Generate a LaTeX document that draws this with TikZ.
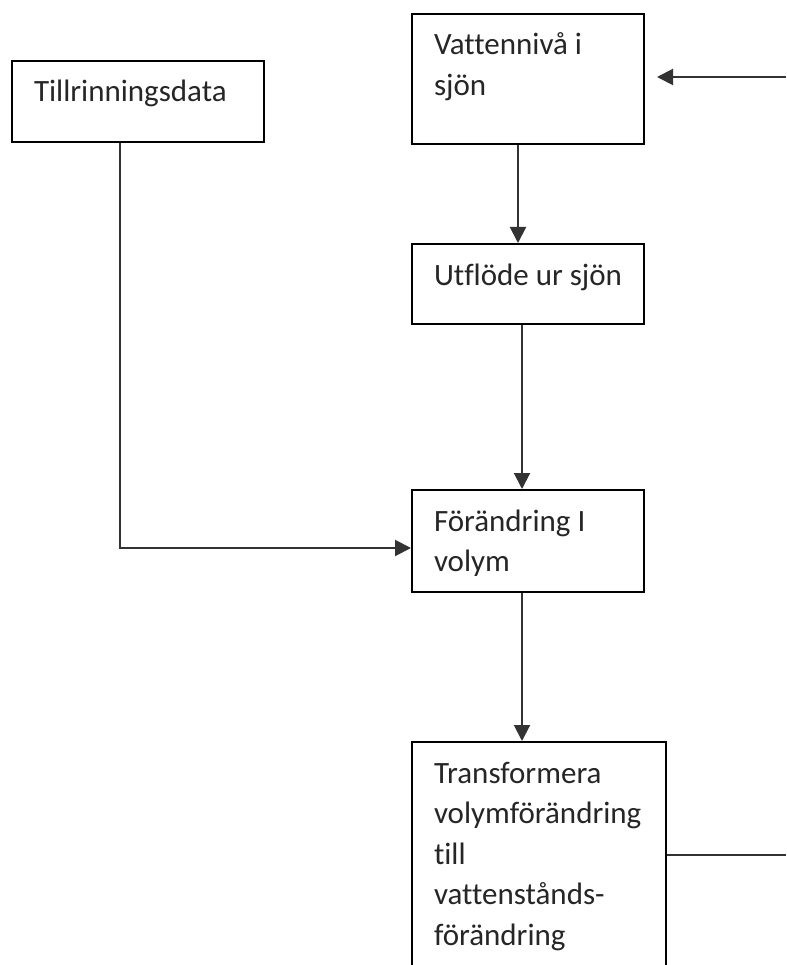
\documentclass[tikz,border=0pt]{standalone}
\usepackage{fontspec}
\setmainfont{Carlito}[Ligatures={NoCommon,NoRequired,NoContextual}]
\usetikzlibrary{arrows.meta}
\newcommand{\bxt}[3]{\parbox[t][#1][t]{#2}{\fontsize{31}{40.5}\selectfont\raggedright\hyphenpenalty=10000\rule{0pt}{28pt}#3}}
\tikzset{
  box/.style={draw=black, line width=2pt, anchor=north west, inner xsep=22pt, inner ysep=13pt, text=black!85, fill=white},
  conn/.style={draw=black!80, line width=2pt},
  arr/.style={conn, -{Triangle[length=16pt,width=16pt]}},
}
\begin{document}
\begin{tikzpicture}[x=1pt,y=-1pt]
\clip (0,0) rectangle (786,965);
\fill[white] (0,0) rectangle (786,965);
\node[box] (T) at (11,60) {\bxt{55pt}{208pt}{Tillrinningsdata}};
\node[box] (A) at (411,13) {\bxt{104pt}{188pt}{Vattennivå i\\sjön}};
\node[box] (U) at (411,243) {\bxt{54pt}{188pt}{Utflöde ur sjön}};
\node[box] (F) at (411,489) {\bxt{76pt}{188pt}{Förändring I\\volym}};
\node[box] (Tr) at (411,741) {\bxt{234pt}{210pt}{Transformera\\volymförändring\\till\\vattenstånds-\\förändring}};
\coordinate (r1) at (786,855);
\coordinate (r2) at (786,77);
\coordinate (Ae) at ([xshift=12pt]A.east);
\coordinate (Ab) at ([xshift=-10pt]A.south);
\coordinate (Ub) at ([xshift=-6pt]U.south);
\coordinate (Fb) at ([xshift=-6pt]F.south);
\coordinate (Tb) at ([xshift=-18pt]T.south);
\coordinate (Fw) at ([yshift=-7pt]F.west);
\draw[arr] (Ab) -- (Ab |- U.north);
\draw[arr] (Ub) -- (Ub |- F.north);
\draw[arr] (Fb) -- (Fb |- Tr.north);
\draw[arr] (Tb) |- (Fw);
\draw[conn] (Tr.east |- r1) -- (r1);
\draw[arr] (r2) -- (Ae |- r2);
\end{tikzpicture}
\end{document}
